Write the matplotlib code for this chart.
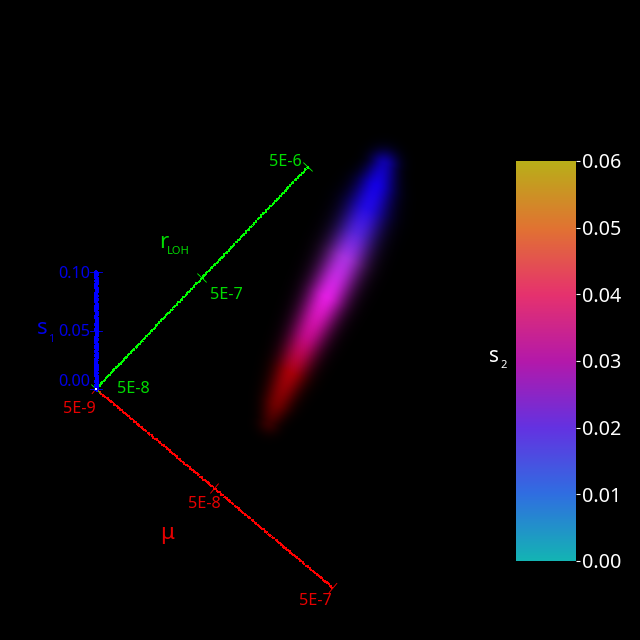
import numpy as np
import matplotlib
matplotlib.use('Agg')
import matplotlib.pyplot as plt
from matplotlib.colors import LinearSegmentedColormap

plt.rcParams['font.family'] = ['Noto Sans', 'DejaVu Sans']

# axis values
mu_ticks = [5e-9, 5e-8, 5e-7]
mu_labels = ['5E-9', '5E-8', '5E-7']
rloh_ticks = [5e-8, 5e-7, 5e-6]
rloh_labels = ['5E-8', '5E-7', '5E-6']
s1_ticks = [0.00, 0.05, 0.10]
s1_labels = ['0.00', '0.05', '0.10']
s2_ticks = [0.00, 0.01, 0.02, 0.03, 0.04, 0.05, 0.06]
s2_labels = ['0.00', '0.01', '0.02', '0.03', '0.04', '0.05', '0.06']

# colour bar stops bottom to top
s2_colors = ['#14b4b4', '#306ee1', '#6432e1', '#b419aa', '#e6326e', '#e17332', '#b9af19']

# the density cloud, read along its middle from top to bottom
cloud_x = [383, 378, 367, 356, 345, 328, 307, 290, 276, 270]
cloud_y = [165, 185, 208, 233, 258, 297, 337, 373, 405, 422]
cloud_sigma = [10, 13, 15, 15, 15, 14, 13, 12, 10, 8]
cloud_rgb = [[15, 0, 170], [20, 0, 225], [35, 10, 225], [85, 35, 215], [165, 50, 220], [225, 30, 225],
             [190, 10, 135], [165, 0, 10], [110, 0, 0], [55, 0, 0]]

BLACK = '#000000'
RED = '#e60000'
GREEN = '#00dc00'
BLUE = '#0000e6'
WHITE = '#ffffff'


def cloud_image(size=640):
	# every pixel takes its colour from the closest point of the middle line
	t = np.linspace(0, len(cloud_x) - 1, 400)
	idx = np.arange(len(cloud_x))
	py = np.interp(t, idx, cloud_y)
	px = np.polyval(np.polyfit(cloud_y, cloud_x, 3), py)
	ps = np.interp(t, idx, cloud_sigma)
	pc = np.array([np.interp(t, idx, [c[k] for c in cloud_rgb]) for k in range(3)]).T
	yy, xx = np.mgrid[120:470, 240:420]
	d2 = (xx[..., None] + 0.5 - px) ** 2 + (yy[..., None] + 0.5 - py) ** 2
	near = d2.argmin(axis=2)
	fall = np.exp(-d2.min(axis=2) / (2 * ps[near] ** 2))
	img = np.zeros((size, size, 3))
	img[120:470, 240:420] = pc[near] * fall[..., None] / 255.0
	return img


def log_pos(v, ticks, origin, end):
	f = (np.log10(v) - np.log10(ticks[0])) / (np.log10(ticks[-1]) - np.log10(ticks[0]))
	return origin[0] + f * (end[0] - origin[0]), origin[1] + f * (end[1] - origin[1])


def draw_axis(ax, origin, end, pos, color, lw, tick=6, dashes=None):
	line, = ax.plot([origin[0], end[0]], [origin[1], end[1]], color=color, lw=lw, antialiased=False)
	line.set_sketch_params(scale=0.5, length=4, randomness=3)
	if dashes:
		line.set_linestyle((0, dashes))
	dx, dy = end[0] - origin[0], end[1] - origin[1]
	n = np.hypot(dx, dy)
	nx, ny = -dy / n * tick, dx / n * tick
	for x, y in pos:
		ax.plot([x - nx, x + nx], [y - ny, y + ny], color=color, lw=0.6)


fig = plt.figure(figsize=(6.4, 6.4), dpi=100, facecolor=BLACK)
ax = fig.add_axes([0, 0, 1, 1])
ax.set_facecolor(BLACK)
ax.imshow(cloud_image(), extent=(0, 640, 640, 0), interpolation='bilinear')
ax.set_xlim(0, 640)
ax.set_ylim(640, 0)
ax.axis('off')

origin = (96, 389)
mu_end = (333, 588)
rloh_end = (308, 167)
s1_end = (96, 272)

mu_pos = [log_pos(v, mu_ticks, origin, mu_end) for v in mu_ticks]
rloh_pos = [log_pos(v, rloh_ticks, origin, rloh_end) for v in rloh_ticks]
s1_pos = [(origin[0], origin[1] + v / s1_ticks[-1] * (s1_end[1] - origin[1])) for v in s1_ticks]

draw_axis(ax, origin, mu_end, mu_pos, '#ff0000', 0.9, dashes=(2.5, 1.0))
draw_axis(ax, origin, rloh_end, rloh_pos, '#00ff00', 0.75, dashes=(2.5, 1.2))
draw_axis(ax, origin, s1_end, s1_pos, '#0000ff', 2.0)
ax.plot([origin[0]], [origin[1]], marker='s', ms=2, color=WHITE, mew=0)

small = 11.7
for (x, y), s in zip([(79, 409), (204, 504), (315, 601)], mu_labels):
	ax.text(x, y, s, color=RED, fontsize=small, ha='center', va='center')
for (x, y), s in zip([(133, 389), (226, 295), (285.5, 162)], rloh_labels):
	ax.text(x, y, s, color=GREEN, fontsize=small, ha='center', va='center')
for y, s in zip([382, 332, 274], s1_labels):
	ax.text(90.5, y, s, color=BLUE, fontsize=small, ha='right', va='center')

ax.text(167, 534, 'μ', color=RED, fontsize=16, ha='center', va='center')
ax.text(159, 243, 'r', color=GREEN, fontsize=16, ha='left', va='center')
ax.text(167, 252, 'LOH', color=GREEN, fontsize=8, ha='left', va='center')
ax.text(37, 329, 's', color=BLUE, fontsize=16, ha='left', va='center')
ax.text(48, 339, '1', color=BLUE, fontsize=8, ha='left', va='center')
ax.text(489, 357, 's', color=WHITE, fontsize=15, ha='left', va='center')
ax.text(500, 366, '2', color=WHITE, fontsize=8, ha='left', va='center')

# colour bar
cax = fig.add_axes([516 / 640, 1 - 561 / 640, 60 / 640, 400 / 640])
cmap = LinearSegmentedColormap.from_list('s2', s2_colors)
cax.imshow(np.linspace(s2_ticks[-1], s2_ticks[0], 256)[:, None], cmap=cmap, aspect='auto',
	extent=(0, 1, s2_ticks[0], s2_ticks[-1]))
cax.set_xticks([])
cax.yaxis.tick_right()
cax.set_yticks(s2_ticks)
cax.set_yticklabels(s2_labels, color=WHITE, fontsize=14.2)
cax.tick_params(axis='y', color=WHITE, length=3, width=0.8, pad=1)
for sp in cax.spines.values():
	sp.set_visible(False)

fig.savefig('out.png', dpi=100, facecolor=BLACK)
